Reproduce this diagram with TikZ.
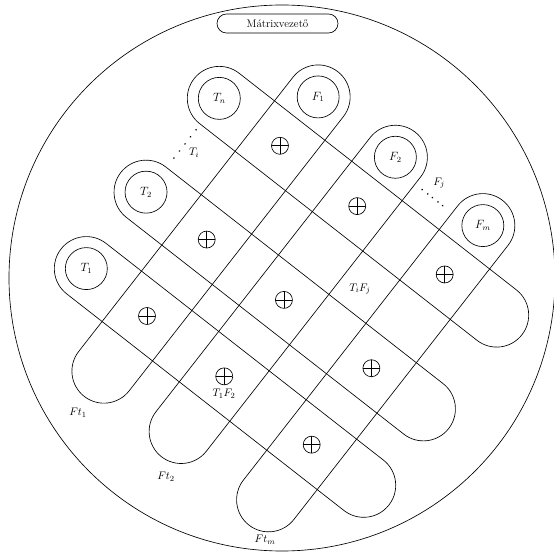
\documentclass[tikz,border=0pt]{standalone}
\usetikzlibrary{shapes.misc}

\begin{document}
\begin{tikzpicture}[
                x=1pt, y=1pt, line width=0.65pt,
                strip/.style = {draw, rounded corners=32pt},
                pad/.style = {circle, draw, minimum size=42pt, inner sep=0pt, font=\fontsize{12}{14}\selectfont},
                xorcell/.style = {circle, draw, minimum size=17pt, inner sep=0pt,
                        path picture={\draw (path picture bounding box.north) -- (path picture bounding box.south)
                                (path picture bounding box.west) -- (path picture bounding box.east);}},
                lbl/.style = {inner sep=1pt, font=\fontsize{11}{13}\selectfont}
        ]
        \useasboundingbox (0,0) rectangle (554,552);
        \node[circle, draw, minimum size=546pt, inner sep=0pt] (wafer) at (282,274) {};
        \node[rounded rectangle, draw, minimum width=121pt, minimum height=19pt, inner sep=0pt,
                font=\fontsize{11}{13}\selectfont] (driver) at (277.5,528.5) {Mátrixvezető};

        \begin{scope}[shift={(147,236)}, rotate=-38]
                % row strips T
                \draw[strip] (-109,-32) rectangle (307,32);
                \draw[strip] (-109,65) rectangle (307,129);
                \draw[strip] (-109,184) rectangle (307,248);
                % column strips F
                \draw[strip] (-32,-102) rectangle (32,310);
                \draw[strip] (66,-102) rectangle (130,310);
                \draw[strip] (177,-102) rectangle (241,310);

                \node[pad] (t1) at (-77,0) {$T_1$};
                \node[pad] (t2) at (-77,97) {$T_2$};
                \node[pad] (tn) at (-77,216) {$T_n$};
                \node[pad] (f1) at (0,278) {$F_1$};
                \node[pad] (f2) at (98,278) {$F_2$};
                \node[pad] (fm) at (209,278) {$F_m$};

                \foreach \r/\y in {1/0, 2/97, n/216}
                        \foreach \c/\x in {1/0, 2/98, m/209}
                                \node[xorcell] (x\r\c) at (\x,\y) {};

                % dots between the strips
                \foreach \d in {141,150,159,168,177}
                        \fill (-76,\d) circle (0.9pt);
                \foreach \d in {139,146,152,159,165}
                        \fill (\d,269) circle (0.9pt);
        \end{scope}

        \node[lbl] (ti) at (194,399) {$T_i$};
        \node[lbl] (fj) at (439,369) {$F_j$};
        \node[lbl] (tifj) at (360,263) {$T_iF_j$};
        \node[lbl] (t1f2) at (224,158) {$T_1F_2$};
        \node[lbl] (ft1) at (78,139) {$Ft_1$};
        \node[lbl] (ft2) at (166,75) {$Ft_2$};
        \node[lbl] (ftm) at (265,12) {$Ft_m$};
\end{tikzpicture}
\end{document}
